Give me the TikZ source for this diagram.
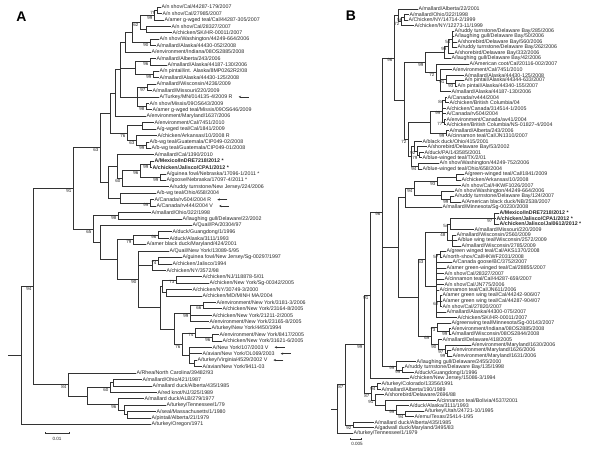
\documentclass[tikz,border=0pt]{standalone}
\usepackage{fontspec}
\setmainfont{Liberation Sans}
\usetikzlibrary{arrows.meta}
\tikzset{
 br/.style={line width=0.55bp, draw=black!80},
 lab/.style={anchor=west, inner xsep=0.9bp, inner ysep=0.3bp, font=\fontsize{5.3}{6}\selectfont, text=black!85},
 labb/.style={lab, font=\fontsize{5.3}{6}\selectfont\bfseries},
 bs/.style={anchor=north east, inner sep=0.2bp, font=\fontsize{4.5}{5}\selectfont, text=black!85, xshift=-1.2bp, yshift=-0.5bp},
 arr/.style={line width=0.5bp, draw=black!80, -{Stealth[length=2.4bp,width=2.2bp]}},
 panel/.style={font=\fontsize{14}{14}\selectfont\bfseries, inner sep=0pt},
 scl/.style={font=\fontsize{4.6}{5}\selectfont, inner sep=0pt, text=black!85},
}
\newcommand\kids[2]{\foreach \ch in {#2}{\draw[br] (#1) |- (\ch);}}
\newcommand\bsv[2]{\node[bs] (l#1) at (#1) {#2};}
\begin{document}
\begin{tikzpicture}[x=1bp,y=1bp]
\useasboundingbox (0,0) rectangle (600,-469);
\fill[white] (0,0) rectangle (600,-469);
\node[panel] (pA) at (21.5,-17) {A};
\node[panel] (pB) at (351,-16) {B};
% ================= PANEL A =================
\begin{scope}[y=-6.42bp, shift={(0bp,-0.58bp)}]
\node[lab] (a1) at (160.5,1) {A/n shov/Cal/44287-179/2007};
\node[lab] (a2) at (161.5,2) {A/n shov/Cal/27985/2007};
\node[lab] (a3) at (163.5,3) {A/amer g-wged teal/Cal/44287-305/2007};
\node[lab] (a4) at (170.5,4) {A/n shov/Cal/28327/2007};
\node[lab] (a5) at (171.5,5) {A/chicken/SK/HR-00011/2007};
\node[lab] (a6) at (158.5,6) {A/n shov/Washington/44249-664/2006};
\node[lab] (a7) at (155.5,7) {A/mallard/Alaska/44430-052/2008};
\node[lab] (a8) at (150.5,8) {A/environment/Indiana/08OS2885/2008};
\node[lab] (a9) at (155.5,9) {A/mallard/Alberta/243/2006};
\node[lab] (a10) at (166.5,10) {A/mallard/Alaska/44187-130/2006};
\node[lab] (a11) at (158.5,11) {A/n pintail/int. Alaska/8MP0262R2/08};
\node[lab] (a12) at (158.5,12) {A/mallard/Alaska/44430-125/2008};
\node[lab] (a13) at (155.5,13) {A/mallard/Wisconsin/4236/2009};
\node[lab] (a14) at (151.5,14) {A/mallard/Missouri/220/2009};
\node[lab] (a15) at (158.5,15) {A/Turkey/MN/014135-4/2009 R};
\node[lab] (a16) at (148.5,16) {A/n shov/Missis/09OS643/2009};
\node[lab] (a17) at (151.5,17) {A/amer g-wged teal/Missis/09OS646/2009};
\node[lab] (a18) at (145.5,18) {A/environment/Maryland/1637/2006};
\node[lab] (a19) at (153.5,19) {A/environment/Cal/7451/2010};
\node[lab] (a20) at (155.5,20) {A/g-wged teal/Cal/1841/2009};
\node[lab] (a21) at (156.5,21) {A/chicken/Arkansas/10/2008 R};
\node[lab] (a22) at (148.5,22) {A/b-wg teal/Guatemala/CIP049-02/2008};
\node[lab] (a23) at (150.5,23) {A/b-wg teal/Guatemala/CIP049-01/2008};
\node[lab] (a24) at (153.5,24) {A/mallard/Cal/1390/2010};
\node[labb] (a25) at (153.5,25) {A/Mexico/InDRE7218/2012 *};
\node[labb] (a26) at (151.5,26) {A/chicken/Jalisco/CPA1/2012 *};
\node[lab] (a27) at (165.5,27) {A/guinea fowl/Nebraska/17096-1/2011 *};
\node[lab] (a28) at (165.5,28) {A/goose/Nebraska/17097-4/2011 *};
\node[lab] (a29) at (168.5,29) {A/ruddy turnstone/New Jersey/224/2006};
\node[lab] (a30) at (155.5,30) {A/b-wg teal/Ohio/658/2004};
\node[lab] (a31) at (153.5,31) {A/Canada/rv504/2004 R};
\node[lab] (a32) at (155.5,32) {A/Canada/rv444/2004 V};
\node[lab] (a33) at (150.5,33) {A/mallard/Ohio/322/1998};
\node[lab] (a34) at (181.5,34) {A/laughing gull/Delaware/22/2002};
\node[lab] (a35) at (191.5,35) {A/Quail/PA/20304/97};
\node[lab] (a36) at (171.5,36) {A/duck/Guangdong/1/1996};
\node[lab] (a37) at (168.5,37) {A/duck/Alaska/3111/1993};
\node[lab] (a38) at (145.5,38) {A/amer black duck/Maryland/424/2001};
\node[lab] (a39) at (168.5,39) {A/Quail/New York/13089-5/95};
\node[lab] (a40) at (181.5,40) {A/guinea fowl/New Jersey/Sg-00297/1997};
\node[lab] (a41) at (171.5,41) {A/chicken/Jalisco/1994};
\node[lab] (a42) at (165.5,42) {A/chicken/NY/3572/98};
\node[lab] (a43) at (201.5,43) {A/chicken/NJ/118878-5/01};
\node[lab] (a44) at (208.5,44) {A/chicken/New York/Sg-00342/2005};
\node[lab] (a45) at (191.5,45) {A/chicken/NY/30749-3/2000};
\node[lab] (a46) at (201.5,46) {A/chicken/MD/MINH MA/2004};
\node[lab] (a47) at (215.5,47) {A/environment/New York/3181-3/2006};
\node[lab] (a48) at (221.5,48) {A/chicken/New York/23164-8/2005};
\node[lab] (a49) at (211.5,49) {A/chicken/New York/21211-2/2005};
\node[lab] (a50) at (208.5,50) {A/environment/New York/23165-8/2005};
\node[lab] (a51) at (210.5,51) {A/turkey/New York/4450/1994};
\node[lab] (a52) at (218.5,52) {A/environment/New York/8417/2005};
\node[lab] (a53) at (221.5,53) {A/chicken/New York/31621-6/2005};
\node[lab] (a54) at (211.5,54) {A/New York/107/2003 V};
\node[lab] (a55) at (201.5,55) {A/avian/New York/OL069/2003};
\node[lab] (a56) at (196.5,56) {A/turkey/Virginia/4529/2002 V};
\node[lab] (a57) at (201.5,57) {A/avian/New York/9411-03};
\node[lab] (a58) at (135.5,58) {A/Rhea/North Carolina/39482/93};
\node[lab] (a59) at (141.5,59) {A/mallard/Ohio/421/1987};
\node[lab] (a60) at (151.5,60) {A/mallard duck/Alberta/435/1985};
\node[lab] (a61) at (156.5,61) {A/red knot/NJ/325/1989};
\node[lab] (a62) at (143.5,62) {A/mallard duck/ALB/279/1977};
\node[lab] (a63) at (165.5,63) {A/turkey/Tennessee/1/79};
\node[lab] (a64) at (155.5,64) {A/seal/Massachusetts/1/1980};
\node[lab] (a65) at (150.5,65) {A/pintail/Alberta/21/1979};
\node[lab] (a66) at (150.5,66) {A/turkey/Oregon/1971};
% internal nodes
\coordinate (aN79) at (157,1.5);
\coordinate (aN99a) at (154,2.25);
\coordinate (aN45) at (146,4.5);
\coordinate (aN62) at (140,3.375);
\coordinate (aN90) at (150,6.5);
\coordinate (aN12) at (132,4.94);
\coordinate (aN128) at (125,6.47);
\coordinate (aN96a) at (150,9.5);
\coordinate (aN99b) at (153,11.5);
\coordinate (aN34) at (135,10.5);
\coordinate (aN97) at (147,13.5);
\coordinate (aN98) at (146,16.5);
\coordinate (aN56) at (137,15);
\coordinate (aNTop) at (120,10.73);
\coordinate (aNT18) at (115,14.37);
\coordinate (aN1920) at (142,19.5);
\coordinate (aN99g) at (146,22.5);
\coordinate (aN63b) at (136,21.75);
\coordinate (aN76) at (127,20.63);
\coordinate (aNU1) at (110,17.5);
\coordinate (aN99mx) at (150,25.5);
\coordinate (aN99neb) at (160,27.5);
\coordinate (aN96b) at (140,26.5);
\coordinate (aN60) at (122,27.75);
\coordinate (aN24) at (117,25.88);
\coordinate (aN99c) at (150,31.5);
\coordinate (aN30) at (120,30.75);
\coordinate (aNMid) at (108,28.31);
\coordinate (aN63) at (100,22.9);
\coordinate (aN98b) at (118,33.5);
\coordinate (aN96c) at (158,36.5);
\coordinate (aN79b) at (133,37.25);
\coordinate (aN74) at (158,40.5);
\coordinate (aNJ) at (152,41.25);
\coordinate (aN73) at (176,43.5);
\coordinate (aN4546) at (166,45.5);
\coordinate (aNC) at (162,44.5);
\coordinate (aN66) at (203,47.5);
\coordinate (aN99e) at (190,48.75);
\coordinate (aN96d) at (212,52.5);
\coordinate (aN7b) at (195,51.75);
\coordinate (aN5657) at (194,56.5);
\coordinate (aN5457) at (189,55.25);
\coordinate (aN76b) at (182,53.5);
\coordinate (aNNYe) at (174,51.13);
\coordinate (aNNY) at (160,47.81);
\coordinate (aN90b) at (138,43.41);
\coordinate (aN117) at (117,40.33);
\coordinate (aNQ) at (100,37.66);
\coordinate (aN65) at (93,35.58);
\coordinate (aN91) at (73,29.24);
\coordinate (aN60a) at (113,59.5);
\coordinate (aN60r) at (110,60.25);
\coordinate (aN96c2) at (127,64.5);
\coordinate (aN96b2) at (124,63.75);
\coordinate (aN96r) at (118,62.88);
\coordinate (aNX) at (87,61.56);
\coordinate (aN84) at (68,59.78);
\coordinate (aN94) at (33,44.51);
\coordinate (aR) at (21,55.26);
\coordinate (aRoot) at (8,55.26);
% edges
\kids{aN79}{a1,a2}
\kids{aN99a}{aN79,a3}
\kids{aN45}{a4,a5}
\kids{aN62}{aN99a,aN45}
\kids{aN90}{a6,a7}
\kids{aN12}{aN62,aN90}
\kids{aN128}{aN12,a8}
\kids{aN96a}{a9,a10}
\kids{aN99b}{a11,a12}
\kids{aN34}{aN96a,aN99b}
\kids{aN97}{a13,a14}
\kids{aN98}{a16,a17}
\kids{aN56}{aN97,a15,aN98}
\kids{aNTop}{aN128,aN34,aN56}
\kids{aNT18}{aNTop,a18}
\kids{aN1920}{a19,a20}
\kids{aN99g}{a22,a23}
\kids{aN63b}{a21,aN99g}
\kids{aN76}{aN1920,aN63b}
\kids{aNU1}{aNT18,aN76}
\kids{aN99mx}{a25,a26}
\kids{aN99neb}{a27,a28}
\kids{aN96b}{aN99mx,aN99neb}
\kids{aN60}{aN96b,a29}
\kids{aN24}{a24,aN60}
\kids{aN99c}{a31,a32}
\kids{aN30}{a30,aN99c}
\kids{aNMid}{aN24,aN30}
\kids{aN63}{aNU1,aNMid}
\kids{aN98b}{a33,a34}
\kids{aN96c}{a36,a37}
\kids{aN79b}{aN96c,a38}
\kids{aN74}{a40,a41}
\kids{aNJ}{aN74,a42}
\kids{aN73}{a43,a44}
\kids{aN4546}{a45,a46}
\kids{aNC}{aN73,aN4546}
\kids{aN66}{a47,a48}
\kids{aN99e}{aN66,a49,a50}
\kids{aN96d}{a52,a53}
\kids{aN7b}{a51,aN96d}
\kids{aN5657}{a56,a57}
\kids{aN5457}{a54,a55,aN5657}
\kids{aN76b}{aN7b,aN5457}
\kids{aNNYe}{aN99e,aN76b}
\kids{aNNY}{aNC,aNNYe}
\kids{aN90b}{a39,aNJ,aNNY}
\kids{aN117}{aN79b,aN90b}
\kids{aNQ}{a35,aN117}
\kids{aN65}{aN98b,aNQ}
\kids{aN91}{aN63,aN65}
\kids{aN60a}{a59,a60}
\kids{aN60r}{aN60a,a61}
\kids{aN96c2}{a64,a65}
\kids{aN96b2}{a63,aN96c2}
\kids{aN96r}{a62,aN96b2}
\kids{aNX}{aN60r,aN96r}
\kids{aN84}{a58,aNX}
\kids{aN94}{aN91,aN84}
\kids{aR}{aN94,a66}
\draw[br] (aRoot) -- (aR);
% bootstrap values
\bsv{aN79}{79}\bsv{aN99a}{99}\bsv{aN62}{62}\bsv{aN90}{90}\bsv{aN96a}{96}\bsv{aN99b}{99}
\bsv{aN97}{97}\bsv{aN98}{98}\bsv{aN76}{76}\bsv{aN63b}{63}\bsv{aN99g}{99}\bsv{aN99mx}{99}
\bsv{aN96b}{96}\bsv{aN60}{60}\bsv{aN99neb}{99}\bsv{aN99c}{99}\bsv{aN63}{63}\bsv{aN98b}{98}
\bsv{aN65}{65}\bsv{aN91}{91}\bsv{aN96c}{96}\bsv{aN79b}{79}\bsv{aN74}{74}\bsv{aN90b}{90}
\bsv{aN73}{73}\bsv{aN99e}{99}\bsv{aN66}{66}\bsv{aN96d}{96}\bsv{aN7b}{74}\bsv{aN76b}{76}
\bsv{aN94}{94}\bsv{aN84}{84}\bsv{aN60r}{60}\bsv{aN96r}{96}
% arrows
\foreach \t in {a15,a31,a32,a54,a55,a56}{\draw[arr] ([xshift=15bp]\t.east) -- ([xshift=5bp]\t.east);}
\end{scope}
% ================= PANEL B =================
\begin{scope}[y=-5.51bp, shift={(0bp,-3.49bp)}]
\node[lab] (b1) at (417.5,1) {A/mallard/Alberta/22/2001};
\node[lab] (b2) at (408.5,2) {A/mallard/Ohio/322/1998};
\node[lab] (b3) at (407.5,3) {A/Chicken/NY/14714-2/1999};
\node[lab] (b4) at (413.5,4) {A/chicken/NY/12273-11/1999};
\node[lab] (b5) at (453.5,5) {A/ruddy turnstone/Delaware Bay/285/2006};
\node[lab] (b6) at (453.5,6) {A/laughing gull/Delaware Bay/50/2006};
\node[lab] (b7) at (456.5,7) {A/shorebird/Delaware Bay/560/2006};
\node[lab] (b8) at (456.5,8) {A/ruddy turnstone/Delaware Bay/262/2006};
\node[lab] (b9) at (453.5,9) {A/shorebird/Delaware Bay/332/2006};
\node[lab] (b10) at (450.5,10) {A/laughing gull/Delaware Bay/42/2006};
\node[lab] (b11) at (468.5,11) {A/American coot/Cal/20116-002/2007};
\node[lab] (b12) at (451.5,12) {A/environment/Cal/7451/2010};
\node[lab] (b13) at (463.5,13) {A/mallard/Alaska/44430-125/2008};
\node[lab] (b14) at (463.5,14) {A/n pintail/Alaska/44344-633/2007};
\node[lab] (b15) at (456.5,15) {A/n pintail/Alaska/44340-155/2007};
\node[lab] (b16) at (450.5,16) {A/mallard/Alaska/44187-130/2006};
\node[lab] (b17) at (446.5,17) {A/Canada/rv444/2004};
\node[lab] (b18) at (448.5,18) {A/chicken/British Columbia/04};
\node[lab] (b19) at (445.5,19) {A/chicken/Canada/314514-1/2005};
\node[lab] (b20) at (445.5,20) {A/Canada/rv504/2004};
\node[lab] (b21) at (445.5,21) {A/environment/Canada/av41/2004};
\node[lab] (b22) at (445.5,22) {A/chicken/British Columbia/NS-01827-4/2004};
\node[lab] (b23) at (448.5,23) {A/mallard/Alberta/243/2006};
\node[lab] (b24) at (446.5,24) {A/cinnamon teal/Cal/JN1310/2007};
\node[lab] (b25) at (421.5,25) {A/black duck/Ohio/415/2001};
\node[lab] (b26) at (426.5,26) {A/shorebird/Delaware Bay/53/2002};
\node[lab] (b27) at (423.5,27) {A/duck/PA/143585/2001};
\node[lab] (b28) at (421.5,28) {A/blue-winged teal/TX/2/01};
\node[lab] (b29) at (438.5,29) {A/n shov/Washington/44249-752/2006};
\node[lab] (b30) at (421.5,30) {A/blue-winged teal/Ohio/658/2004};
\node[lab] (b31) at (463.5,31) {A/green-winged teal/Cal/1841/2009};
\node[lab] (b32) at (460.5,32) {A/chicken/Arkansas/10/2008};
\node[lab] (b33) at (460.5,33) {A/n shov/Cal/HKWF1026/2007};
\node[lab] (b34) at (453.5,34) {A/n shov/Washington/44249-664/2006};
\node[lab] (b35) at (453.5,35) {A/ruddy turnstone/Delaware Bay/124/2007};
\node[lab] (b36) at (460.5,36) {A/American black duck/NB/2538/2007};
\node[lab] (b37) at (441.5,37) {A/mallard/Minnesota/Sg-00230/2008};
\node[labb] (b38) at (498.5,38) {A/Mexico/InDRE7218/2012 *};
\node[labb] (b39) at (495.5,39) {A/chicken/Jalisco/CPA1/2012 *};
\node[labb] (b40) at (498.5,40) {A/chicken/Jalisco/Jal0612/2012 *};
\node[lab] (b41) at (473.5,41) {A/mallard/Missouri/220/2009};
\node[lab] (b42) at (455.5,42) {A/mallard/Wisconsin/2560/2009};
\node[lab] (b43) at (456.5,43) {A/blue wing teal/Wisconsin/2572/2009};
\node[lab] (b44) at (460.5,44) {A/mallard/Wisconsin/2785/2009};
\node[lab] (b45) at (445.5,45) {A/green winged teal/Cal/AKS1370/2008};
\node[lab] (b46) at (441.5,46) {A/north-shov/Cal/HKWF2031/2008};
\node[lab] (b47) at (451.5,47) {A/Canada goose/BC/3752/2007};
\node[lab] (b48) at (445.5,48) {A/amer green-winged teal/Cal/28855/2007};
\node[lab] (b49) at (443.5,49) {A/n shov/Cal/28327/2007};
\node[lab] (b50) at (443.5,50) {A/cinnamon teal/Cal/44287-659/2007};
\node[lab] (b51) at (443.5,51) {A/n shov/Cal/JN775/2006};
\node[lab] (b52) at (438.5,52) {A/cinnamon teal/Cal/JN611/2006};
\node[lab] (b53) at (441.5,53) {A/amer green wing teal/Cal/44242-906/07};
\node[lab] (b54) at (441.5,54) {A/amer green wing teal/Cal/44287-904/07};
\node[lab] (b55) at (441.5,55) {A/n shov/Cal/27820/2007};
\node[lab] (b56) at (445.5,56) {A/mallard/Alaska/44300-075/2007};
\node[lab] (b57) at (456.5,57) {A/chicken/SK/HR-00011/2007};
\node[lab] (b58) at (450.5,58) {A/greenwing teal/Minnesota/Sg-00143/2007};
\node[lab] (b59) at (450.5,59) {A/environment/Indiana/08OS2885/2008};
\node[lab] (b60) at (450.5,60) {A/mallard/Wisconsin/08OS2844/2008};
\node[lab] (b61) at (441.5,61) {A/mallard/Delaware/418/2005};
\node[lab] (b62) at (470.5,62) {A/environment/Maryland/1630/2006};
\node[lab] (b63) at (450.5,63) {A/environment/Maryland/1626/2006};
\node[lab] (b64) at (451.5,64) {A/environment/Maryland/1631/2006};
\node[lab] (b65) at (415.5,65) {A/laughing gull/Delaware/2455/2000};
\node[lab] (b66) at (403.5,66) {A/ruddy turnstone/Delaware Bay/135/1998};
\node[lab] (b67) at (413.5,67) {A/duck/Guangdong/1/1996};
\node[lab] (b68) at (408.5,68) {A/chicken/New Jersey/15086-3/1994};
\node[lab] (b69) at (380.5,69) {A/turkey/Colorado/13356/1991};
\node[lab] (b70) at (380.5,70) {A/mallard/Alberta/190/1989};
\node[lab] (b71) at (383.5,71) {A/shorebird/Delaware/2696/88};
\node[lab] (b72) at (435.5,72) {A/cinnamon teal/Bolivia/4537/2001};
\node[lab] (b73) at (408.5,73) {A/duck/Alaska/3111/1993};
\node[lab] (b74) at (423.5,74) {A/turkey/Utah/24721-10/1995};
\node[lab] (b75) at (413.5,75) {A/emu/Texas/25414-1/95};
\node[lab] (b76) at (373.5,76) {A/mallard duck/Alberta/435/1985};
\node[lab] (b77) at (373.5,77) {A/gadwall duck/Maryland/3495/83};
\node[lab] (b78) at (352.5,78) {A/turkey/Tennessee/1/1979};
% internal nodes
\coordinate (bN56) at (404,2.5);
\coordinate (bN72) at (401,3.25);
\coordinate (bNT) at (398,2.13);
\coordinate (bN54) at (452,6.5);
\coordinate (bN99db) at (448,7.75);
\coordinate (bNDB) at (444,8.88);
\coordinate (bN97p) at (455,14.5);
\coordinate (bN91a) at (446,13.75);
\coordinate (bNak) at (440,14);
\coordinate (bN72a) at (436,12.5);
\coordinate (bNDBak) at (425,10.69);
\coordinate (bN84) at (445,17.5);
\coordinate (bN77) at (444,21.5);
\coordinate (bNCan) at (442,19.5);
\coordinate (bN99ab) at (446,23.5);
\coordinate (bNCanAB) at (430,21.5);
\coordinate (bN79) at (419,27.5);
\coordinate (bN92) at (417,26.75);
\coordinate (bN25) at (414,25.88);
\coordinate (bN94) at (418,29.5);
\coordinate (bNBD) at (411,27.69);
\coordinate (bNRest) at (408,24.59);
\coordinate (bNG) at (404,17.64);
\coordinate (bN96a) at (394,9.88);
\coordinate (bN3132) at (456,31.5);
\coordinate (bN93) at (437,32.25);
\coordinate (bN99w) at (450,35.5);
\coordinate (bN34) at (441,34.75);
\coordinate (bN94b) at (414,33.5);
\coordinate (bN94c) at (405,35.25);
\coordinate (bNMx) at (494,39);
\coordinate (bN54b) at (450,40);
\coordinate (bNWis) at (452,43);
\coordinate (bN48) at (447,41.5);
\coordinate (bN4546) at (440,45.5);
\coordinate (bN62c) at (440,54);
\coordinate (bNComb) at (436,51.25);
\coordinate (bNCal) at (425,46.38);
\coordinate (bN99i) at (449,59.5);
\coordinate (bN73) at (437,58.75);
\coordinate (bN99md) at (447,63.5);
\coordinate (bNmd2) at (445,62.75);
\coordinate (bN90) at (438,61.88);
\coordinate (bN69) at (431,60.31);
\coordinate (bNLM) at (418,53.34);
\coordinate (bNMidAll) at (398,44.3);
\coordinate (bN99dg) at (402,66.5);
\coordinate (bN99lg) at (396,65.75);
\coordinate (bN96) at (382,37.82);
\coordinate (bN91) at (370,52.91);
\coordinate (bNcol) at (377,69.5);
\coordinate (bNemu) at (405,74.5);
\coordinate (bNduck) at (396,73.75);
\coordinate (bNbol) at (385,72.88);
\coordinate (bNsb) at (375,71.94);
\coordinate (bNlow) at (371,70.72);
\coordinate (bN99) at (364,61.81);
\coordinate (bNmd) at (353,76.5);
\coordinate (bNBig) at (345,69.16);
\coordinate (bRt) at (337,73.58);
\coordinate (bRoot) at (331,73.58);
% edges
\kids{bN56}{b2,b3}
\kids{bN72}{bN56,b4}
\kids{bNT}{b1,bN72}
\kids{bN54}{b5,b6,b7,b8}
\kids{bN99db}{bN54,b9}
\kids{bNDB}{bN99db,b10}
\kids{bN97p}{b14,b15}
\kids{bN91a}{b13,bN97p}
\kids{bNak}{b12,bN91a,b16}
\kids{bN72a}{b11,bNak}
\kids{bNDBak}{bNDB,bN72a}
\kids{bN84}{b17,b18}
\kids{bN77}{b21,b22}
\kids{bNCan}{bN84,b19,b20,bN77}
\kids{bN99ab}{b23,b24}
\kids{bNCanAB}{bNCan,bN99ab}
\kids{bN79}{b27,b28}
\kids{bN92}{b26,bN79}
\kids{bN25}{b25,bN92}
\kids{bN94}{b29,b30}
\kids{bNBD}{bN25,bN94}
\kids{bNRest}{bNCanAB,bNBD}
\kids{bNG}{bNDBak,bNRest}
\kids{bN96a}{bNT,bNG}
\kids{bN3132}{b31,b32}
\kids{bN93}{bN3132,b33}
\kids{bN99w}{b35,b36}
\kids{bN34}{b34,bN99w}
\kids{bN94b}{bN93,bN34}
\kids{bN94c}{bN94b,b37}
\kids{bNMx}{b38,b39,b40}
\kids{bN54b}{bNMx,b41}
\kids{bNWis}{b42,b43,b44}
\kids{bN48}{bN54b,bNWis}
\kids{bN4546}{b45,b46}
\kids{bN62c}{b53,b54,b55}
\kids{bNComb}{bN4546,b47,b48,b49,b50,b51,b52,bN62c,b56,b57}
\kids{bNCal}{bN48,bNComb}
\kids{bN99i}{b59,b60}
\kids{bN73}{b58,bN99i}
\kids{bN99md}{b63,b64}
\kids{bNmd2}{b62,bN99md}
\kids{bN90}{b61,bNmd2}
\kids{bN69}{bN73,bN90}
\kids{bNLM}{bNCal,bN69}
\kids{bNMidAll}{bN94c,bNLM}
\kids{bN99dg}{b66,b67}
\kids{bN99lg}{b65,bN99dg}
\kids{bN96}{bN96a,bNMidAll,bN99lg}
\kids{bN91}{bN96,b68}
\kids{bNcol}{b69,b70}
\kids{bNemu}{b74,b75}
\kids{bNduck}{b73,bNemu}
\kids{bNbol}{b72,bNduck}
\kids{bNsb}{b71,bNbol}
\kids{bNlow}{bNcol,bNsb}
\kids{bN99}{bN91,bNlow}
\kids{bNmd}{b76,b77}
\kids{bNBig}{bN99,bNmd}
\kids{bRt}{bNBig,b78}
\draw[br] (bRoot) -- (bRt);
% bootstrap values
\bsv{bN56}{56}\bsv{bN72}{72}\bsv{bN96a}{96}\bsv{bN54}{54}\bsv{bN99db}{99}\bsv{bN72a}{72}
\bsv{bN91a}{91}\bsv{bN97p}{93}\bsv{bNDBak}{99}\bsv{bN84}{84}\bsv{bNCan}{99}\bsv{bN77}{77}
\bsv{bN99ab}{99}\bsv{bNRest}{72}\bsv{bN92}{92}\bsv{bN79}{79}\bsv{bN94}{94}\bsv{bN93}{93}
\bsv{bN99w}{99}\bsv{bN94b}{94}\bsv{bNMx}{97}\bsv{bN54b}{54}\bsv{bN48}{48}\bsv{bN4546}{57}
\bsv{bNCal}{63}\bsv{bN62c}{62}\bsv{bN73}{73}\bsv{bN99i}{99}\bsv{bN69}{69}\bsv{bN90}{90}
\bsv{bN99md}{99}\bsv{bNmd2}{97}\bsv{bN96}{96}\bsv{bN91}{91}\bsv{bN99}{99}\bsv{bN99lg}{99}
\bsv{bN99dg}{99}\bsv{bNBig}{87}\bsv{bNcol}{94}\bsv{bNlow}{87}\bsv{bNsb}{91}\bsv{bNduck}{99}
\bsv{bNemu}{94}\bsv{bNmd}{92}
\end{scope}
% ================= SCALE BARS =================
\coordinate (sa1) at (45,-433); \coordinate (sa2) at (69,-433);
\draw[br] (sa1) -- (sa2);
\draw[br] ([yshift=0.9bp]sa1) -- ([yshift=-0.9bp]sa1);
\draw[br] ([yshift=0.9bp]sa2) -- ([yshift=-0.9bp]sa2);
\node[scl] (sat) at (57,-438.5) {0.01};
\coordinate (sb1) at (350,-439); \coordinate (sb2) at (361,-439);
\draw[br] (sb1) -- (sb2);
\draw[br] ([yshift=0.9bp]sb1) -- ([yshift=-0.9bp]sb1);
\draw[br] ([yshift=0.9bp]sb2) -- ([yshift=-0.9bp]sb2);
\node[scl] (sbt) at (357,-443.5) {0.005};
\end{tikzpicture}
\end{document}
